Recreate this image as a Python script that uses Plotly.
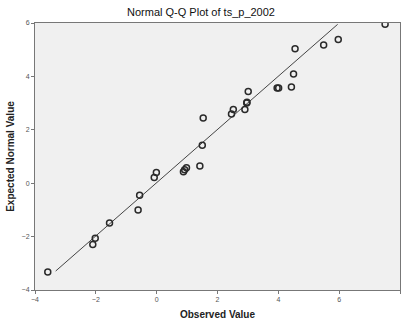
import plotly.graph_objects as go

observed = [-3.58, -2.10, -2.02, -1.55, -0.61, -0.56, -0.08, -0.01, 0.88, 0.92, 0.98,
            1.42, 1.50, 1.53, 2.46, 2.52, 2.90, 2.96, 2.97, 3.01, 3.96, 4.01, 4.43,
            4.50, 4.55, 5.49, 5.97, 7.51]
expected = [-3.33, -2.30, -2.06, -1.49, -1.00, -0.45, 0.21, 0.40, 0.43, 0.50, 0.58,
            0.64, 1.42, 2.44, 2.59, 2.76, 2.76, 3.00, 3.03, 3.43, 3.57, 3.57, 3.60,
            4.09, 5.04, 5.18, 5.38, 5.95]
line_x = [-3.32, 5.95]
line_y = [-3.29, 5.95]

fig = go.Figure()
fig.add_trace(go.Scatter(x=line_x, y=line_y, mode="lines",
                         line=dict(color="#444444", width=1), hoverinfo="skip"))
fig.add_trace(go.Scatter(x=observed, y=expected, mode="markers",
                         marker=dict(symbol="circle-open", size=6, color="#2a2a2a",
                                     line=dict(width=1.5, color="#2a2a2a"))))

axis_common = dict(showgrid=False, zeroline=False, showline=True, mirror=True,
                   linecolor="#777777", linewidth=1, ticks="outside", ticklen=3,
                   tickcolor="#777777", tickfont=dict(size=7, color="#555555",
                                                      family="Liberation Sans"),
                   dtick=2)
fig.update_xaxes(range=[-4, 8], title=dict(text="<b>Observed Value</b>", standoff=8,
                 font=dict(size=10, color="#222222", family="Liberation Sans")),
                 **axis_common)
fig.update_yaxes(range=[-4, 6], title=dict(text="<b>Expected Normal Value</b>", standoff=5,
                 font=dict(size=10, color="#222222", family="Liberation Sans")),
                 **axis_common)

fig.update_layout(
    width=402, height=320,
    margin=dict(l=35, r=2, t=23, b=30),
    paper_bgcolor="white", plot_bgcolor="#f0f0f0",
    showlegend=False,
    title=dict(text="Normal Q-Q Plot of ts_p_2002", x=0.5, xanchor="center",
               y=0.962, yanchor="middle",
               font=dict(size=11, color="#111111", family="Liberation Sans")),
)
fig.write_html("out.html", config={"displayModeBar": False})

with open("out.html", "r", encoding="utf-8") as f:
    html = f.read()
html = html.replace("<head>", "<head><style>html,body{margin:0;padding:0;overflow:hidden;}</style>", 1)
with open("out.html", "w", encoding="utf-8") as f:
    f.write(html)
